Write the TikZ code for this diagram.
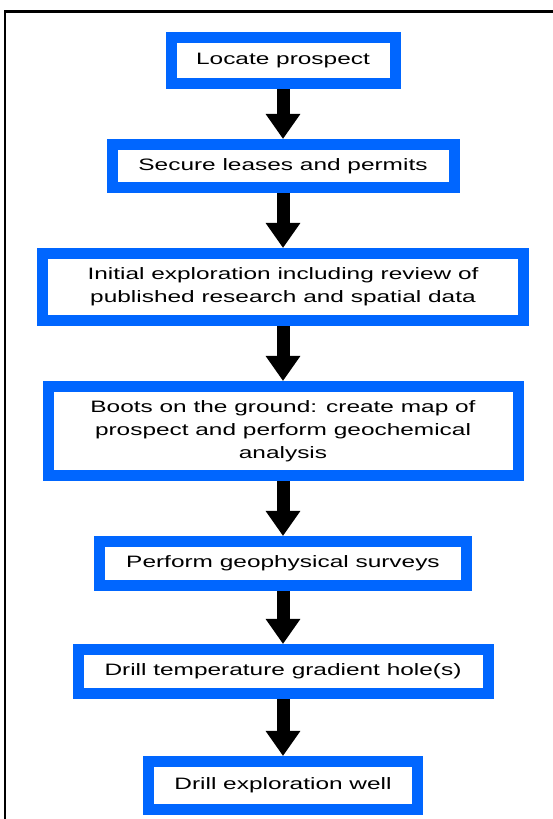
\documentclass[tikz,border=0pt]{standalone}
\usepackage{fontspec}
\setmainfont{Liberation Sans}[FakeStretch=1.48]
\usetikzlibrary{arrows.meta}

\definecolor{stepblue}{RGB}{0,102,255}

\tikzset{
  stepbox/.style={draw=stepblue, line width=11pt, fill=white, outer sep=5.5pt,
    inner sep=0pt, align=center, font=\fontsize{16.5pt}{23pt}\selectfont},
  fatarrow/.style={line width=13pt, -{Triangle[width=33pt,length=25pt]}}
}

\begin{document}
\begin{tikzpicture}[x=1pt, y=1pt]
  \useasboundingbox (0,0) rectangle (553,819);
  \fill[white] (0,0) rectangle (553,819);
  \draw[line width=2.5pt] (5,0) -- (5,807.5) -- (553,807.5);
  \node[stepbox, minimum width=224, minimum height=46] (locate) at (283,758.5)
    {Locate prospect};
  \node[stepbox, minimum width=342, minimum height=43] (leases) at (283,653)
    {Secure leases and permits};
  \node[stepbox, minimum width=481, minimum height=67] (initial) at (283,532)
    {Initial exploration including review of\\
     published research and spatial data};
  \node[stepbox, minimum width=470, minimum height=89] (boots) at (283,388)
    {Boots on the ground: create map of\\
     prospect and perform geochemical\\
     analysis};
  \node[stepbox, minimum width=367, minimum height=44] (geophys) at (283,255.5)
    {Perform geophysical surveys};
  \node[stepbox, minimum width=410, minimum height=44] (gradient) at (283,147.5)
    {Drill temperature gradient hole(s)};
  \node[stepbox, minimum width=269, minimum height=48] (well) at (283,33.5)
    {Drill exploration well};
  \draw[fatarrow] (locate) -- (leases);
  \draw[fatarrow] (leases) -- (initial);
  \draw[fatarrow] (initial) -- (boots);
  \draw[fatarrow] (boots) -- (geophys);
  \draw[fatarrow] (geophys) -- (gradient);
  \draw[fatarrow] (gradient) -- (well);
\end{tikzpicture}
\end{document}
